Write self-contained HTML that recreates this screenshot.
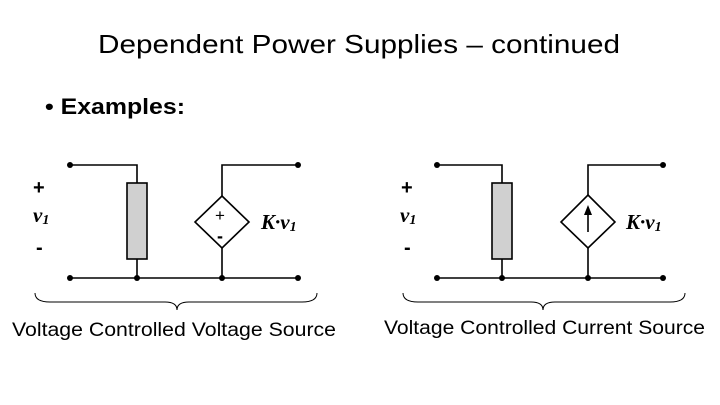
<!DOCTYPE html>
<html><head><style>body{margin:0;background:#fff}svg{display:block}</style></head><body>
<svg width="720" height="405" viewBox="0 0 720 405" xmlns="http://www.w3.org/2000/svg" font-family="Liberation Sans, sans-serif">
<text x="98" y="53" font-size="26" textLength="522" lengthAdjust="spacingAndGlyphs">Dependent Power Supplies – continued</text>
<text x="45" y="114" font-size="22" font-weight="bold" textLength="140" lengthAdjust="spacingAndGlyphs">•  Examples:</text>
<g stroke="#000" stroke-width="1.6" fill="none">
<polyline points="70,165 137,165 137,183"/>
<line x1="137" y1="259" x2="137" y2="278"/>
<line x1="70" y1="278" x2="298" y2="278"/>
<polyline points="298,165 222,165 222,196"/>
<line x1="222" y1="248" x2="222" y2="278"/>
<rect x="127" y="183" width="20" height="76" fill="#d0d0d0"/>
<polygon points="222,196 249,222 222,248 195,222" fill="#fff"/>
<path d="M35,293 Q35,302 50,302 L165,302 Q177,302 177,310 Q177,302 189,302 L302,302 Q317,302 317,293" stroke-width="1"/>
<polyline points="437,165 502,165 502,183"/>
<line x1="502" y1="259" x2="502" y2="278"/>
<line x1="437" y1="278" x2="663" y2="278"/>
<polyline points="663,165 588,165 588,195"/>
<line x1="588" y1="248" x2="588" y2="278"/>
<rect x="492" y="183" width="20" height="76" fill="#d0d0d0"/>
<polygon points="588,195 615,222 588,248 561,222" fill="#fff"/>
<line x1="588" y1="232" x2="588" y2="214"/>
<path d="M403,293 Q403,302 418,302 L531,302 Q543,302 543,310 Q543,302 555,302 L670,302 Q685,302 685,293" stroke-width="1"/>
</g>
<polygon points="588,205 584,215 592,215" fill="#000"/>
<g fill="#000">
<circle cx="70" cy="165" r="3"/><circle cx="298" cy="165" r="3"/>
<circle cx="70" cy="278" r="3"/><circle cx="137" cy="278" r="3"/><circle cx="222" cy="278" r="3"/><circle cx="298" cy="278" r="3"/>
<circle cx="437" cy="165" r="3"/><circle cx="663" cy="165" r="3"/>
<circle cx="437" cy="278" r="3"/><circle cx="502" cy="278" r="3"/><circle cx="588" cy="278" r="3"/><circle cx="663" cy="278" r="3"/>
</g>
<g font-weight="bold" font-size="20">
<text x="33" y="194">+</text><text x="36" y="254">-</text>
<text x="401" y="194">+</text><text x="404" y="254">-</text>
</g>
<g font-family="Liberation Serif, serif" font-weight="bold" font-style="italic" font-size="21">
<text x="33" y="222">v<tspan font-size="14" dy="2">1</tspan></text>
<text x="400" y="222">v<tspan font-size="14" dy="2">1</tspan></text>
<text x="261" y="229">K·v<tspan font-size="14" dy="2">1</tspan></text>
<text x="626" y="229">K·v<tspan font-size="14" dy="2">1</tspan></text>
</g>
<text x="215" y="221" font-size="17">+</text>
<text x="217" y="242" font-size="18" font-weight="bold">-</text>
<text x="12" y="336" font-size="19" textLength="324" lengthAdjust="spacingAndGlyphs">Voltage Controlled Voltage Source</text>
<text x="384" y="334" font-size="19" textLength="321" lengthAdjust="spacingAndGlyphs">Voltage Controlled Current Source</text>
</svg>
</body></html>
